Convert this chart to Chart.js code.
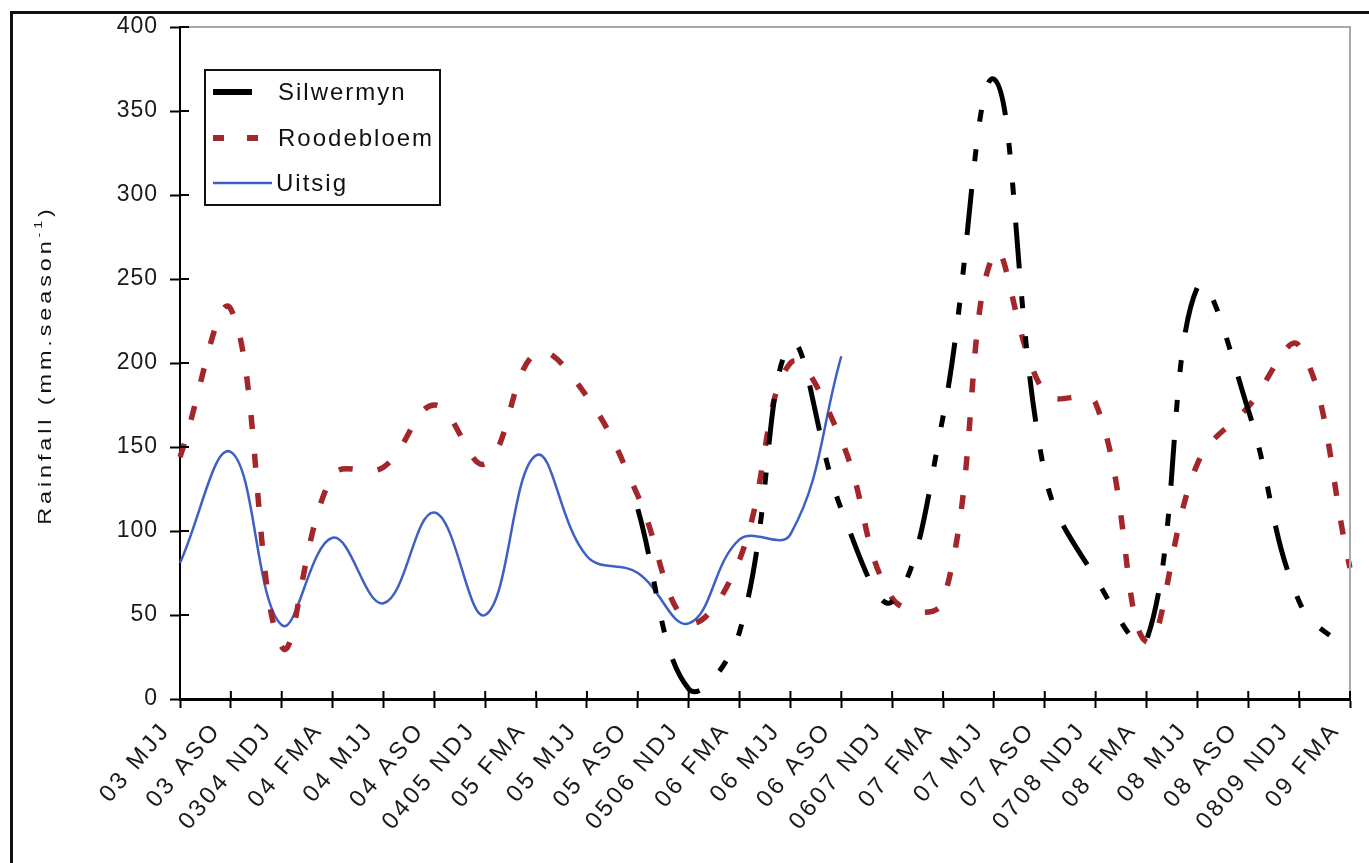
<!DOCTYPE html>
<html>
<head>
<meta charset="utf-8">
<script src="https://cdn.jsdelivr.net/npm/chart.js@4.4.1/dist/chart.umd.min.js"></script>
<style>
  html, body { margin: 0; padding: 0; background: #fff; }
  #wrap { width: 1369px; height: 863px; position: relative; }
</style>
</head>
<body>
<div id="wrap"><canvas id="rainfall-chart"></canvas></div>
<script>
const seasons = [
  "03 MJJ", "03 ASO", "0304 NDJ", "04 FMA", "04 MJJ", "04 ASO", "0405 NDJ", "05 FMA",
  "05 MJJ", "05 ASO", "0506 NDJ", "06 FMA", "06 MJJ", "06 ASO", "0607 NDJ", "07 FMA",
  "07 MJJ", "07 ASO", "0708 NDJ", "08 FMA", "08 MJJ", "08 ASO", "0809 NDJ", "09 FMA"
];
const silwermyn = [
  null, null, null, null, null, null, null, null,
  null, 113, 6, 40, 211, 113, 58, 168,
  369, 134, 72, 35, 245, 172, 58, 28
];
const roodebloem = [
  144, 232, 31, 133, 138, 175, 140, 206,
  180, 121, 46, 83, 200, 154, 60, 58,
  265, 182, 176, 34, 140, 174, 210, 78
];
const uitsig = [
  81, 147, 44, 96, 57, 111, 50, 145,
  85, 75, 45, 95, 98, 204, null, null,
  null, null, null, null, null, null, null, null
];
const yTicks = [0, 50, 100, 150, 200, 250, 300, 350, 400];

const FONT = "'Liberation Sans', Arial, sans-serif";

// frame, inner tick halves, y title and boxed legend
const decorations = {
  id: "decorations",
  // x labels are drawn wide-spaced, y labels (z: 1) tighter
  beforeLayout(chart) { chart.ctx.letterSpacing = "3px"; },
  beforeDraw(chart) { chart.ctx.letterSpacing = "3px"; },
  afterDatasetsDraw(chart) { chart.ctx.letterSpacing = "1px"; },
  afterDraw(chart) {
    const { ctx, chartArea: a, scales: { x, y } } = chart;
    ctx.save();
    ctx.letterSpacing = "0px";

    // grey plot border top + right
    ctx.strokeStyle = "#a8a8a8";
    ctx.lineWidth = 2;
    ctx.beginPath();
    ctx.moveTo(a.left, a.top);
    ctx.lineTo(a.right, a.top);
    ctx.lineTo(a.right, a.bottom);
    ctx.stroke();

    // tick marks cross the axes
    ctx.strokeStyle = "#000";
    ctx.lineWidth = 2;
    ctx.beginPath();
    x.ticks.forEach((t, i) => {
      const px = x.getPixelForTick(i);
      ctx.moveTo(px, a.bottom);
      ctx.lineTo(px, a.bottom - 8);
    });
    y.ticks.forEach((t, i) => {
      const py = y.getPixelForTick(i);
      ctx.moveTo(a.left, py);
      ctx.lineTo(a.left + 9, py);
    });
    ctx.stroke();

    // outer figure frame
    ctx.strokeStyle = "#111";
    ctx.lineWidth = 3;
    ctx.beginPath();
    ctx.moveTo(11.5, chart.height + 5);
    ctx.lineTo(11.5, 12.5);
    ctx.lineTo(chart.width + 5, 12.5);
    ctx.stroke();

    // y axis title, stretched & spaced like the original
    ctx.save();
    ctx.translate(45, (a.top + a.bottom) / 2 + 2);
    ctx.rotate(-Math.PI / 2);
    ctx.scale(1.3, 1);
    ctx.fillStyle = "#111";
    ctx.textBaseline = "alphabetic";
    ctx.letterSpacing = "3px";
    ctx.font = "18px " + FONT;
    const main = "Rainfall (mm.season";
    const wMain = ctx.measureText(main).width;
    ctx.font = "11px " + FONT;
    const wSup = ctx.measureText("-1").width;
    ctx.font = "18px " + FONT;
    const wEnd = ctx.measureText(")").width;
    let tx = -(wMain + wSup + wEnd) / 2;
    ctx.fillText(main, tx, 6);
    tx += wMain;
    ctx.font = "11px " + FONT;
    ctx.fillText("-1", tx, -3);
    tx += wSup;
    ctx.font = "18px " + FONT;
    ctx.fillText(")", tx, 6);
    ctx.restore();

    // legend box
    const lx = a.left + 25, ly = a.top + 43;
    ctx.strokeStyle = "#111";
    ctx.lineWidth = 2;
    ctx.strokeRect(lx, ly, 235, 135);
    ctx.font = "24px " + FONT;
    ctx.letterSpacing = "2px";
    ctx.textBaseline = "middle";
    ctx.fillStyle = "#111";
    const rows = [
      { y: ly + 22, x0: 213, x1: 252, tx: 278 },
      { y: ly + 68, x0: 213, x1: 258, tx: 278 },
      { y: ly + 113, x0: 213, x1: 272, tx: 276 }
    ];
    chart.data.datasets.forEach((ds, i) => {
      const r = rows[i];
      ctx.save();
      ctx.strokeStyle = ds.borderColor;
      ctx.lineWidth = i === 2 ? ds.borderWidth : 6;
      ctx.setLineDash(i === 1 ? [11, 23] : []);
      ctx.beginPath();
      ctx.moveTo(r.x0, r.y);
      ctx.lineTo(r.x1, r.y);
      ctx.stroke();
      ctx.restore();
      ctx.fillText(ds.label, r.tx, r.y + 1);
    });

    ctx.restore();
  }
};

new Chart(document.getElementById("rainfall-chart"), {
  type: "line",
  data: {
    labels: seasons,
    datasets: [
      {
        label: "Silwermyn",
        data: silwermyn,
        borderColor: "#000000",
        borderWidth: 5,
        borderDash: [46, 28, 12, 28, 12, 28],
      },
      {
        label: "Roodebloem",
        data: roodebloem,
        borderColor: "#a3262a",
        borderWidth: 5.5,
        borderDash: [14, 25],
      },
      {
        label: "Uitsig",
        data: uitsig,
        borderColor: "#3f5fc5",
        borderWidth: 2.5,
      },
    ],
  },
  options: {
    responsive: true,
    maintainAspectRatio: false,
    animation: false,
    devicePixelRatio: 1,
    layout: { padding: { top: 27, right: 19, left: 0, bottom: 0 } },
    elements: {
      point: { radius: 0 },
      line: { tension: 0.4, fill: false, capBezierPoints: false },
    },
    plugins: {
      legend: { display: false },
      tooltip: { enabled: false },
    },
    scales: {
      x: {
        offset: false,
        grid: { display: true, drawOnChartArea: false, drawTicks: true, tickLength: 9, tickColor: "#000", tickWidth: 2 },
        border: { display: true, color: "#000", width: 3 },
        ticks: {
          autoSkip: false,
          maxRotation: 50,
          minRotation: 50,
          padding: 9,
          labelOffset: -14,
          color: "#1a1a1a",
          font: { family: FONT, size: 24 },
        },
        afterFit(scale) {
          scale.height = 164;
          scale.paddingRight = 0;
        },
      },
      y: {
        min: 0,
        max: 400,
        afterBuildTicks(scale) { scale.ticks = yTicks.map((v) => ({ value: v })); },
        grid: { display: true, drawOnChartArea: false, drawTicks: true, tickLength: 10, tickColor: "#000", tickWidth: 2 },
        border: { display: true, color: "#000", width: 2 },
        ticks: {
          z: 1,
          padding: 12,
          color: "#1a1a1a",
          font: { family: FONT, size: 23 },
        },
        afterFit(scale) { scale.width = 180; },
      },
    },
  },
  plugins: [decorations],
});
</script>
</body>
</html>
